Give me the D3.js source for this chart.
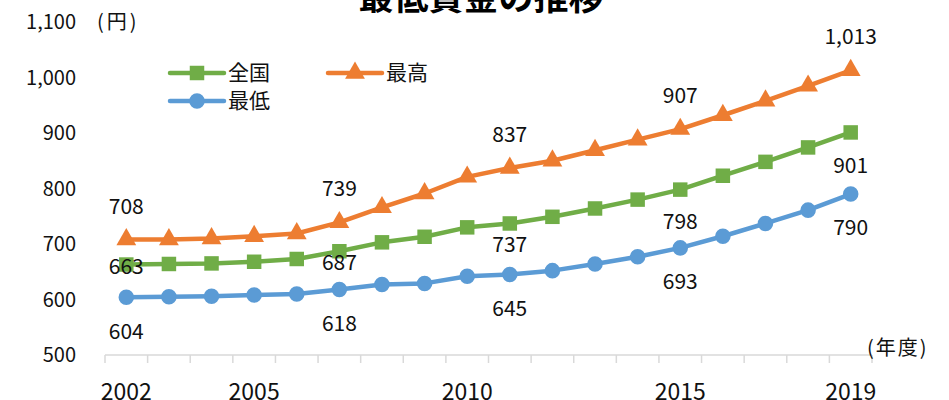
<!DOCTYPE html>
<html>
<head>
<meta charset="utf-8">
<script src="https://cdn.jsdelivr.net/npm/d3@7"></script>
<style>
  body { margin: 0; background: #fff; }
  svg { display: block; font-family: "Noto Sans CJK JP", "Open Sans", sans-serif; }
</style>
</head>
<body>
<svg width="949" height="400"></svg>
<script>
// data
const years = [2002, 2003, 2004, 2005, 2006, 2007, 2008, 2009, 2010, 2011, 2012, 2013, 2014, 2015, 2016, 2017, 2018, 2019];
const zenkoku = [663, 664, 665, 668, 673, 687, 703, 713, 730, 737, 749, 764, 780, 798, 823, 848, 874, 901];
const saiko = [708, 708, 710, 714, 719, 739, 766, 791, 821, 837, 850, 869, 888, 907, 932, 958, 985, 1013];
const saitei = [604, 605, 606, 608, 610, 618, 627, 629, 642, 645, 652, 664, 677, 693, 714, 737, 761, 790];
const yTicks = [500, 600, 700, 800, 900, 1000, 1100];
const xLabels = [2002, 2005, 2010, 2015, 2019];
const labelYears = [2002, 2007, 2011, 2015, 2019];

var svg = d3.select("svg");

var x = d3.scaleBand().domain(years).range([105, 872]);
var y = d3.scaleLinear().domain([500, 1100]).range([355, 22]);
var cx = d => x(d) + x.bandwidth() / 2;

// label offsets (px from point), per series
var series = [
  { name: "全国", values: zenkoku, color: "#70ad47", shape: d3.symbolSquare, size: 210, dy: [2, 11, 21, 32, 33] },
  { name: "最高", values: saiko, color: "#ed7d31", shape: d3.symbolTriangle, size: 170, dy: [-33, -34, -33, -33, -34] },
  { name: "最低", values: saitei, color: "#5b9bd5", shape: d3.symbolCircle, size: 190, dy: [34, 34, 34, 34, 34] }
];

// title
svg.append("text")
    .attr("x", 481).attr("y", 10)
    .attr("text-anchor", "middle")
    .style("font-size", "35px").style("font-weight", "bold")
    .text("最低賃金の推移");

// y axis labels
svg.selectAll(".ytick")
  .data(yTicks)
  .enter().append("text")
    .attr("x", 76).attr("y", d => y(d))
    .attr("dy", "0.35em")
    .attr("text-anchor", "end")
    .style("font-size", "20px").attr("fill", "#111")
    .text(d => d3.format(",")(d));

svg.append("text").attr("x", 97).attr("y", 22).attr("dy", "0.35em")
    .style("font-size", "20px").style("letter-spacing", "3px").attr("fill", "#111").text("(円)");

// x axis
var xAxis = svg.append("g");
xAxis.append("line")
    .attr("x1", 105).attr("x2", 872).attr("y1", 355).attr("y2", 355)
    .attr("stroke", "#d9d9d9").attr("stroke-width", 1.5);
xAxis.selectAll(".tick")
  .data(years.concat([null]))
  .enter().append("line")
    .attr("x1", (d, i) => 105 + i * x.step()).attr("x2", (d, i) => 105 + i * x.step())
    .attr("y1", 355).attr("y2", 363)
    .attr("stroke", "#d9d9d9").attr("stroke-width", 1.5);
xAxis.selectAll(".xlabel")
  .data(xLabels)
  .enter().append("text")
    .attr("x", d => cx(d)).attr("y", 392)
    .attr("dy", "0.35em")
    .attr("text-anchor", "middle")
    .style("font-size", "23px").attr("fill", "#111")
    .text(d => d);

svg.append("text").attr("x", 867).attr("y", 348).attr("dy", "0.35em")
    .style("font-size", "20px").style("letter-spacing", "2px").attr("fill", "#111").text("(年度)");

// lines + markers
var line = d3.line().x((d, i) => cx(years[i])).y(d => y(d));

series.forEach(s => {
  svg.append("path")
      .datum(s.values)
      .attr("d", line)
      .attr("fill", "none")
      .attr("stroke", s.color)
      .attr("stroke-width", 4.5)
      .attr("stroke-linejoin", "round");

  svg.selectAll(null)
    .data(s.values)
    .enter().append("path")
      .attr("transform", (d, i) => "translate(" + cx(years[i]) + "," + y(d) + ")")
      .attr("d", d3.symbol().type(s.shape).size(s.size))
      .attr("fill", s.color);
});

// data labels
series.forEach(s => {
  svg.selectAll(null)
    .data(labelYears)
    .enter().append("text")
      .attr("x", d => cx(d))
      .attr("y", (d, i) => y(s.values[years.indexOf(d)]) + s.dy[i])
      .attr("dy", "0.35em")
      .attr("text-anchor", "middle")
      .style("font-size", "21px").attr("fill", "#111")
      .text(d => d3.format(",")(s.values[years.indexOf(d)]));
});

// legend
var legendPos = [[170, 73], [328, 73], [170, 101]];
series.forEach((s, i) => {
  var lg = svg.append("g").attr("transform", "translate(" + legendPos[i][0] + "," + legendPos[i][1] + ")");
  lg.append("line").attr("x1", 0).attr("x2", 54).attr("stroke", s.color)
      .attr("stroke-width", 4.5).attr("stroke-linecap", "round");
  lg.append("path").attr("transform", "translate(27,0)")
      .attr("d", d3.symbol().type(s.shape).size(s.size)).attr("fill", s.color);
  lg.append("text").attr("x", 58).attr("dy", "0.35em")
      .style("font-size", "21px").attr("fill", "#111").text(s.name);
});
</script>
</body>
</html>
